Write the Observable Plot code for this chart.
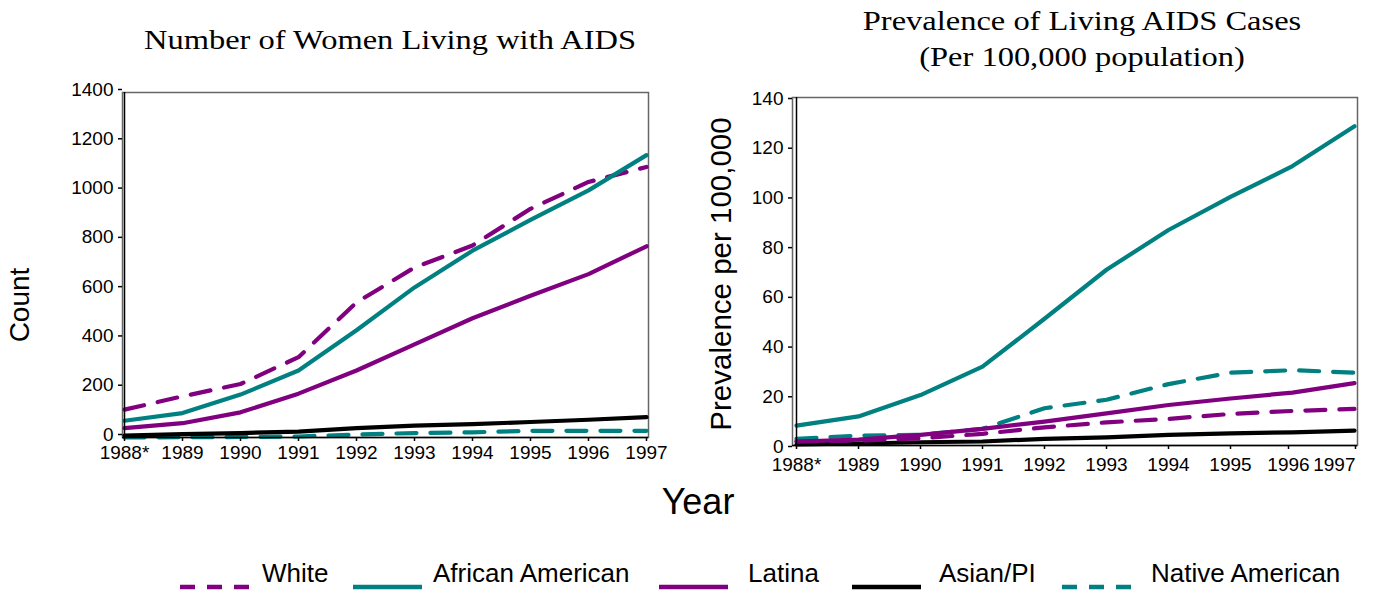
<!DOCTYPE html>
<html>
<head>
<meta charset="utf-8">
<script src="https://cdn.jsdelivr.net/npm/d3@7"></script>
<script src="https://cdn.jsdelivr.net/npm/@observablehq/plot@0.6"></script>
<style>
  body { margin: 0; background: #fff; }
  #root { position: relative; width: 1374px; height: 592px; overflow: hidden; font-family: "Liberation Sans", Arial, sans-serif; }
  .abs { position: absolute; }
  .title { font-family: "Liberation Serif", "Times New Roman", serif; font-size: 28px; color: #000; text-align: center; white-space: nowrap; transform: scaleX(1.16); }
  .axlab { font-size: 28px; color: #000; white-space: nowrap; }
  #left svg text, #right svg text { font-size: 19px !important; }
</style>
</head>
<body>
<div id="root">
  <div class="abs title" style="left:90px; width:600px; top:24px;">Number of Women Living with AIDS</div>
  <div class="abs title" style="left:782px; width:600px; top:3px; line-height:36px;">Prevalence of Living AIDS Cases<br>(Per 100,000 population)</div>
  <div id="left" class="abs" style="left:0; top:0;"></div>
  <div id="right" class="abs" style="left:680px; top:0;"></div>
  <div class="abs axlab" style="left:20px; top:305px; transform: translate(-50%,-50%) rotate(-90deg);">Count</div>
  <div class="abs axlab" style="left:721px; top:274px; font-size:29.5px; transform: translate(-50%,-50%) rotate(-90deg);">Prevalence per 100,000</div>
  <div class="abs axlab" style="left:698px; top:502px; font-size:36px; transform: translate(-50%,-50%);">Year</div>
  <div id="legend" class="abs" style="left:0; top:545px;"></div>
</div>
<script>
const years = ["1988*", "1989", "1990", "1991", "1992", "1993", "1994", "1995", "1996", "1997"];
const seriesNames = ["White", "African American", "Latina", "Asian/PI", "Native American"];
const seriesColors = ["#800080", "#008080", "#800080", "#000000", "#008080"];
const seriesDashed = [true, false, false, false, true];

// Number of women living with AIDS (count)
const countWhite    = [113, 167, 217, 326, 548, 690, 779, 928, 1037, 1098];
const countAfrAm    = [68, 99, 174, 272, 435, 609, 758, 883, 1003, 1146];
const countLatina   = [38, 58, 102, 178, 272, 378, 484, 575, 663, 776];
const countAsian    = [8, 14, 18, 24, 38, 48, 54, 63, 72, 83];
const countNative   = [0, 1, 2, 4, 12, 18, 21, 27, 27, 27];

// Prevalence per 100,000
const prevWhite     = [1.6, 2.0, 2.9, 4.7, 7.3, 9.3, 10.7, 12.7, 13.9, 14.7];
const prevAfrAm     = [8.0, 11.7, 20.3, 31.7, 51.0, 70.7, 86.7, 100.0, 112.4, 128.4];
const prevLatina    = [1.6, 2.4, 4.3, 6.7, 9.6, 12.9, 16.3, 18.9, 21.3, 25.1];
const prevAsian     = [0.4, 0.8, 1.3, 1.6, 2.7, 3.3, 4.3, 4.9, 5.3, 6.0];
const prevNative    = [2.7, 4.0, 4.3, 6.7, 15.0, 18.4, 24.7, 29.3, 30.3, 29.3];

const countTicks = [0, 200, 400, 600, 800, 1000, 1200, 1400];
const prevTicks = [0, 20, 40, 60, 80, 100, 120, 140];

const countSeries = [countWhite, countAfrAm, countLatina, countAsian, countNative];
const prevSeries = [prevWhite, prevAfrAm, prevLatina, prevAsian, prevNative];

const drawOrder = [4, 3, 0, 2, 1];

function buildRows(seriesArr) {
  return seriesArr.map((vals, s) => years.map((yr, i) => ({ year: yr, value: vals[i], series: seriesNames[s] })));
}

function makeChart(seriesArr, yDomain, yTicks, dims) {
  const rows = buildRows(seriesArr);
  const marks = [
    Plot.frame({ stroke: "#666", strokeWidth: 1.5 }),
  ];
  drawOrder.forEach(s => {
    marks.push(Plot.line(rows[s], {
      x: "year", y: "value",
      stroke: seriesColors[s], strokeWidth: 4.2,
      strokeDasharray: seriesDashed[s] ? "20,14" : null,
      strokeLinejoin: "round"
    }));
  });
  marks.push(Plot.ruleX([years[0]], { stroke: "#000", strokeWidth: 1.5 }));
  marks.push(Plot.ruleY([0], { stroke: "#000", strokeWidth: 1.5 }));
  marks.push(Plot.axisY({ ticks: yTicks, tickFormat: d3.format("d"), tickSize: 4, tickPadding: 5, label: null, stroke: "#000", strokeWidth: 1.5, dy: dims.ydy }));
  const xa = { tickSize: 4, tickPadding: dims.xpad, label: null, stroke: "#000", strokeWidth: 1.5 };
  if (dims.endLast) {
    marks.push(Plot.axisX({ ...xa, ticks: years.slice(0, -2) }));
    marks.push(Plot.axisX({ ...xa, ticks: years.slice(-2, -1), dx: -4 }));
    marks.push(Plot.axisX({ ...xa, ticks: years.slice(-1), textAnchor: "end", dx: 1 }));
  } else {
    marks.push(Plot.axisX(xa));
  }
  return Plot.plot({
    width: dims.width, height: dims.height,
    marginLeft: dims.ml, marginRight: dims.mr, marginTop: dims.mt, marginBottom: dims.mb,
    x: { type: "point", domain: years, padding: 0 },
    y: { domain: yDomain },
    style: { fontFamily: "Liberation Sans, Arial, sans-serif", fontSize: "19px", color: "#000", background: "transparent", overflow: "visible" },
    marks
  });
}

document.getElementById("left").appendChild(
  makeChart(countSeries, [0, 1400], countTicks, { width: 680, height: 480, ml: 122, mr: 32, mt: 92, mb: 43, ydy: -3, xpad: 4, endLast: false })
);
document.getElementById("right").appendChild(
  makeChart(prevSeries, [0, 140], prevTicks, { width: 694, height: 480, ml: 112, mr: 17, mt: 97, mb: 35, ydy: 1, xpad: 8, endLast: true })
);

// Legend
const legendSampleX = [180, 353, 659, 852, 1062];
const legendTextX = [262, 433, 748, 939, 1151];
const ns = "http://www.w3.org/2000/svg";
const lsvg = document.createElementNS(ns, "svg");
lsvg.setAttribute("width", 1374);
lsvg.setAttribute("height", 47);
lsvg.style.fontFamily = "Liberation Sans, Arial, sans-serif";
seriesNames.forEach((name, i) => {
  const ln = document.createElementNS(ns, "line");
  ln.setAttribute("x1", legendSampleX[i]);
  ln.setAttribute("x2", legendSampleX[i] + 69);
  ln.setAttribute("y1", 42);
  ln.setAttribute("y2", 42);
  ln.setAttribute("stroke", seriesColors[i]);
  ln.setAttribute("stroke-width", 4.5);
  if (seriesDashed[i]) ln.setAttribute("stroke-dasharray", "15,12");
  lsvg.appendChild(ln);
  const tx = document.createElementNS(ns, "text");
  tx.setAttribute("x", legendTextX[i]);
  tx.setAttribute("y", 37);
  tx.setAttribute("font-size", 26);
  tx.setAttribute("fill", "#000");
  tx.textContent = name;
  lsvg.appendChild(tx);
});
document.getElementById("legend").appendChild(lsvg);
</script>
</body>
</html>
